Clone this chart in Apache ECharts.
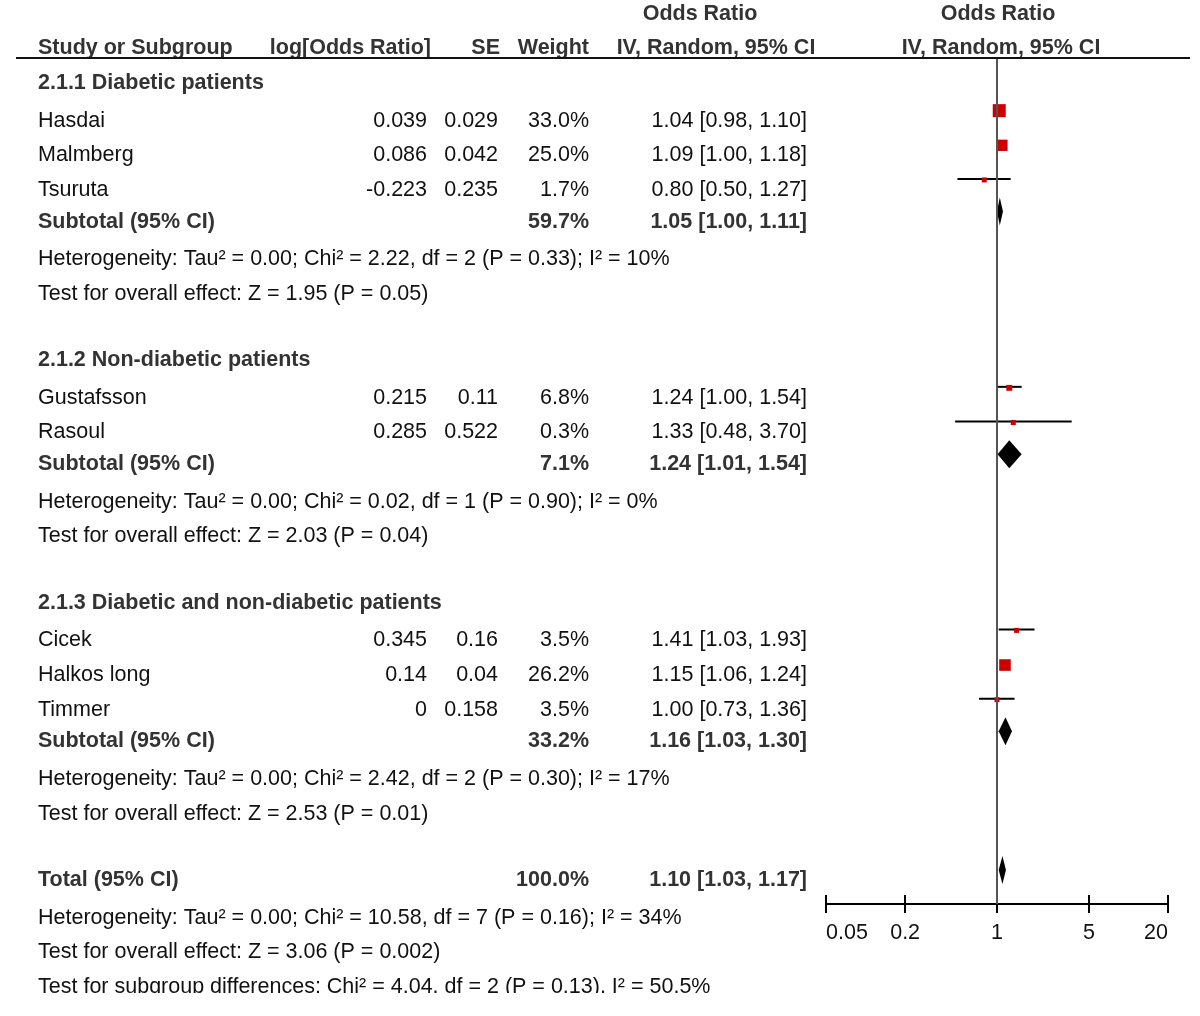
<!DOCTYPE html>
<html lang="en">
<head>
    <meta charset="UTF-8">
    <title>Forest plot</title>
    <script src="https://cdn.jsdelivr.net/npm/echarts@6/dist/echarts.min.js"></script>
    <style>html, body { margin: 0; padding: 0; background: #fff; }</style>
</head>
<body>
<div id="main" style="width: 1200px;height:1016px;"></div>
<script type="text/javascript">
    // studies
    var studyNames = ['Hasdai', 'Malmberg', 'Tsuruta', 'Gustafsson', 'Rasoul', 'Cicek', 'Halkos long', 'Timmer'];
    var studyGroup = [0, 0, 0, 1, 1, 2, 2, 2];
    var logOR = ['0.039', '0.086', '-0.223', '0.215', '0.285', '0.345', '0.14', '0'];
    var seVals = ['0.029', '0.042', '0.235', '0.11', '0.522', '0.16', '0.04', '0.158'];
    var weights = [33.0, 25.0, 1.7, 6.8, 0.3, 3.5, 26.2, 3.5];
    var orVals = [1.04, 1.09, 0.80, 1.24, 1.33, 1.41, 1.15, 1.00];
    var ciLow = [0.98, 1.00, 0.50, 1.00, 0.48, 1.03, 1.06, 0.73];
    var ciHigh = [1.10, 1.18, 1.27, 1.54, 3.70, 1.93, 1.24, 1.36];

    // subgroups
    var groupNames = ['2.1.1 Diabetic patients', '2.1.2 Non-diabetic patients', '2.1.3 Diabetic and non-diabetic patients'];
    var groupWeights = [59.7, 7.1, 33.2];
    var groupOR = [1.05, 1.24, 1.16];
    var groupLow = [1.00, 1.01, 1.03];
    var groupHigh = [1.11, 1.54, 1.30];
    var groupHet = [
        'Heterogeneity: Tau² = 0.00; Chi² = 2.22, df = 2 (P = 0.33); I² = 10%',
        'Heterogeneity: Tau² = 0.00; Chi² = 0.02, df = 1 (P = 0.90); I² = 0%',
        'Heterogeneity: Tau² = 0.00; Chi² = 2.42, df = 2 (P = 0.30); I² = 17%'
    ];
    var groupTest = [
        'Test for overall effect: Z = 1.95 (P = 0.05)',
        'Test for overall effect: Z = 2.03 (P = 0.04)',
        'Test for overall effect: Z = 2.53 (P = 0.01)'
    ];

    // total
    var totalWeight = 100.0;
    var totalOR = 1.10, totalLow = 1.03, totalHigh = 1.17;
    var totalNotes = [
        'Heterogeneity: Tau² = 0.00; Chi² = 10.58, df = 7 (P = 0.16); I² = 34%',
        'Test for overall effect: Z = 3.06 (P = 0.002)',
        'Test for subgroup differences: Chi² = 4.04, df = 2 (P = 0.13), I² = 50.5%'
    ];

    var tickValues = [0.05, 0.2, 1, 5, 20];
    var tickLabels = ['0.05', '0.2', '1', '5', '20'];

    // layout
    var ROW_H = 34.65, ROW0_PX = 83, GRID_TOP = 58, AXIS_PX = 904;
    var STUDY_DY = -8, DIAMOND_DY = -10, NORMAL_DY = 3;
    var COL = {name: 38, logOR: 427, se: 498, weight: 589, ci: 807};
    var FAMILY = '"Liberation Sans", Arial, sans-serif';
    var FONT = '21.5px ' + FAMILY;
    var BOLD = 'bold 21.5px ' + FAMILY;
    var TXT = '#111', BTXT = '#333', RED = '#cc0000';

    function ciText(o, l, h) {
        return o.toFixed(2) + ' [' + l.toFixed(2) + ', ' + h.toFixed(2) + ']';
    }
    function cell(x, text, align, bold) {
        return {x: x, text: text, align: align, bold: !!bold};
    }

    // build table rows
    var rows = [];
    var studyMarks = [];
    var diamondMarks = [];
    rows.push({y: -2, cells: [cell(700, 'Odds Ratio', 'center', true), cell(998, 'Odds Ratio', 'center', true)]});
    rows.push({y: -1, cells: [
        cell(COL.name, 'Study or Subgroup', 'left', true),
        cell(431, 'log[Odds Ratio]', 'right', true),
        cell(500, 'SE', 'right', true),
        cell(COL.weight, 'Weight', 'right', true),
        cell(716, 'IV, Random, 95% CI', 'center', true),
        cell(1001, 'IV, Random, 95% CI', 'center', true)
    ]});
    var r = 0;
    for (var g = 0; g < groupNames.length; g++) {
        rows.push({y: r++, cells: [cell(COL.name, groupNames[g], 'left', true)]});
        for (var i = 0; i < studyNames.length; i++) {
            if (studyGroup[i] !== g) continue;
            rows.push({y: r, cells: [
                cell(COL.name, studyNames[i], 'left'),
                cell(COL.logOR, logOR[i], 'right'),
                cell(COL.se, seVals[i], 'right'),
                cell(COL.weight, weights[i].toFixed(1) + '%', 'right'),
                cell(COL.ci, ciText(orVals[i], ciLow[i], ciHigh[i]), 'right')
            ]});
            studyMarks.push([orVals[i], r, ciLow[i], ciHigh[i], weights[i]]);
            r++;
        }
        rows.push({y: r, cells: [
            cell(COL.name, 'Subtotal (95% CI)', 'left', true),
            cell(COL.weight, groupWeights[g].toFixed(1) + '%', 'right', true),
            cell(COL.ci, ciText(groupOR[g], groupLow[g], groupHigh[g]), 'right', true)
        ]});
        diamondMarks.push([groupOR[g], r, groupLow[g], groupHigh[g]]);
        r++;
        rows.push({y: r++, cells: [cell(COL.name, groupHet[g], 'left')]});
        rows.push({y: r++, cells: [cell(COL.name, groupTest[g], 'left')]});
        r++; // blank line
    }
    rows.push({y: r, cells: [
        cell(COL.name, 'Total (95% CI)', 'left', true),
        cell(COL.weight, totalWeight.toFixed(1) + '%', 'right', true),
        cell(COL.ci, ciText(totalOR, totalLow, totalHigh), 'right', true)
    ]});
    diamondMarks.push([totalOR, r, totalLow, totalHigh]);
    r++;
    for (var k = 0; k < totalNotes.length; k++) {
        rows.push({y: r++, cells: [cell(COL.name, totalNotes[k], 'left')]});
    }

    function renderRow(params, api) {
        var row = rows[params.dataIndex];
        var y = api.coord([1, row.y])[1];
        return {
            type: 'group',
            children: row.cells.map(function (c) {
                return {
                    type: 'text',
                    style: {
                        x: c.x, y: y + (c.bold ? 0 : NORMAL_DY), text: c.text,
                        align: c.align, verticalAlign: 'middle',
                        font: c.bold ? BOLD : FONT,
                        fill: c.bold ? BTXT : TXT
                    }
                };
            })
        };
    }

    function renderStudy(params, api) {
        var c = api.coord([api.value(0), api.value(1)]);
        var y = c[1] + STUDY_DY;
        var x0 = api.coord([api.value(2), api.value(1)])[0];
        var x1 = api.coord([api.value(3), api.value(1)])[0];
        var s = Math.max(5, 13 * Math.sqrt(api.value(4) / 33));
        return {
            type: 'group',
            children: [
                {type: 'line', shape: {x1: x0, y1: y, x2: x1, y2: y}, style: {stroke: '#000', lineWidth: 2}},
                {type: 'rect', shape: {x: c[0] - s / 2, y: y - s / 2 + 1, width: s, height: s}, style: {fill: RED}}
            ]
        };
    }

    function renderDiamond(params, api) {
        var c = api.coord([api.value(0), api.value(1)]);
        var y = c[1] + DIAMOND_DY;
        var x0 = api.coord([api.value(2), api.value(1)])[0];
        var x1 = api.coord([api.value(3), api.value(1)])[0];
        return {
            type: 'polygon',
            shape: {points: [[x0, y], [c[0], y - 14], [x1, y], [c[0], y + 14]]},
            style: {fill: '#000'}
        };
    }

    function tickFmt(v) {
        for (var i = 0; i < tickValues.length; i++) {
            if (Math.abs(v - tickValues[i]) < tickValues[i] * 1e-6) return tickLabels[i];
        }
        return '';
    }

    var myChart = echarts.init(document.getElementById('main'), null, {renderer: 'canvas'});
    myChart.setOption({
        animation: false,
        backgroundColor: '#fff',
        grid: {left: 826, right: 32, top: GRID_TOP, bottom: 1016 - AXIS_PX},
        xAxis: [{
            type: 'log', logBase: 10, min: 0.05, max: 20, position: 'bottom',
            axisLine: {show: true, onZero: false, lineStyle: {color: '#000', width: 2}},
            axisTick: {show: true, length: 9, customValues: tickValues, lineStyle: {color: '#000', width: 2}},
            axisLabel: {show: true, customValues: tickValues, formatter: tickFmt, margin: 18,
                alignMinLabel: 'left', alignMaxLabel: 'right',
                fontSize: 21.5, fontFamily: FAMILY, color: '#111'},
            splitLine: {show: false}, minorTick: {show: false}
        }, {
            type: 'log', logBase: 10, min: 0.05, max: 20, position: 'bottom', offset: 0,
            axisLine: {show: false, onZero: false},
            axisTick: {show: true, inside: true, length: 9, customValues: tickValues, lineStyle: {color: '#000', width: 2}},
            axisLabel: {show: false},
            splitLine: {show: false}
        }],
        yAxis: {
            type: 'value', inverse: true, show: false,
            min: (GRID_TOP - ROW0_PX) / ROW_H,
            max: (AXIS_PX - ROW0_PX) / ROW_H,
            splitLine: {show: false}
        },
        graphic: [{
            type: 'line', shape: {x1: 16, y1: GRID_TOP, x2: 1190, y2: GRID_TOP},
            style: {stroke: '#111', lineWidth: 2}, z: 10
        }, {
            // the source image is cropped just under the last line
            type: 'rect', shape: {x: 0, y: 993, width: 1200, height: 23},
            style: {fill: '#fff'}, z: 100
        }],
        series: [{
            type: 'custom', name: 'table', renderItem: renderRow, clip: false, silent: true,
            data: rows.map(function (row) { return [1, row.y]; })
        }, {
            type: 'custom', name: 'studies', renderItem: renderStudy, clip: false, silent: true,
            data: studyMarks, z: 3,
            markLine: {
                silent: true, symbol: 'none', label: {show: false},
                lineStyle: {color: '#555', width: 2, type: 'solid'},
                data: [{xAxis: 1}]
            }
        }, {
            type: 'custom', name: 'pooled', renderItem: renderDiamond, clip: false, silent: true,
            data: diamondMarks, z: 4
        }]
    });
</script>
</body>
</html>
